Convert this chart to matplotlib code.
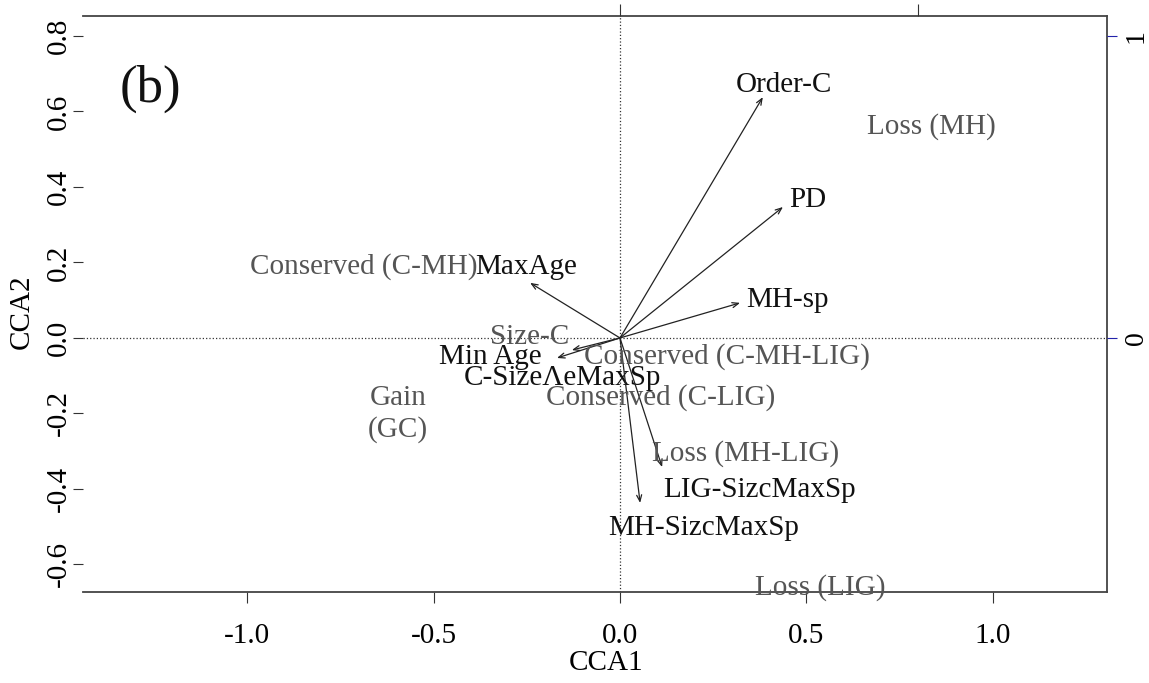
import matplotlib
matplotlib.use("Agg")
import matplotlib.pyplot as plt

plt.rcParams["font.family"] = ["Liberation Serif", "DejaVu Serif"]

# biplot arrows (environmental variables)
arrow_names = ["Order-C", "PD", "MH-sp", "MaxAge", "Min Age",
               "C-SizeΛeMaxSp", "LIG-SizcMaxSp", "MH-SizcMaxSp"]
arrow_x = [0.383, 0.437, 0.322, -0.241, -0.169, -0.129, 0.113, 0.054]
arrow_y = [0.638, 0.347, 0.093, 0.146, -0.053, -0.032, -0.342, -0.437]
arrow_lab_x = [0.440, 0.504, 0.448, -0.252, -0.349, -0.155, 0.375, 0.225]
arrow_lab_y = [0.670, 0.366, 0.101, 0.188, -0.050, -0.106, -0.403, -0.503]

# site scores (categories)
site_names = ["Conserved (C-MH)", "Loss (MH)", "Gain\n(GC)", "Conserved (C-MH-LIG)",
              "Conserved (C-LIG)", "Loss (MH-LIG)", "Loss (LIG)", "Size-C"]
site_x = [-0.686, 0.834, -0.595, 0.287, 0.110, 0.338, 0.536, -0.241]
site_y = [0.188, 0.559, -0.202, -0.050, -0.159, -0.305, -0.660, 0.003]

x_ticks = [-1.0, -0.5, 0.0, 0.5, 1.0]
y_ticks = [-0.6, -0.4, -0.2, 0.0, 0.2, 0.4, 0.6, 0.8]

fig = plt.figure(figsize=(11.49, 6.83), dpi=100)
ax = fig.add_axes([83 / 1149, 1 - 592 / 683, 1024 / 1149, 576 / 683])
ax.set_xlim(-1.44, 1.306)
ax.set_ylim(-0.673, 0.853)

spine_col = "#444444"
for side in ["top", "right", "bottom"]:
    ax.spines[side].set_color(spine_col)
    ax.spines[side].set_linewidth(1.3)
ax.spines["left"].set_visible(False)

ax.axhline(0, ls=":", color="#333333", lw=0.9)
ax.axvline(0, ls=":", color="#333333", lw=0.9)

for i in range(len(arrow_names)):
    ax.annotate("", xy=(arrow_x[i], arrow_y[i]), xytext=(0, 0),
                arrowprops=dict(arrowstyle="->,head_length=0.45,head_width=0.18",
                                lw=0.9, color="#222222", shrinkA=0, shrinkB=0))
    ax.text(arrow_lab_x[i], arrow_lab_y[i], arrow_names[i], fontsize=21,
            color="#111111", ha="center", va="center")

for i in range(len(site_names)):
    ax.text(site_x[i], site_y[i], site_names[i], fontsize=21, color="#555555",
            ha="center", va="center", linespacing=1.25)

ax.text(-1.26, 0.66, "(b)", fontsize=38, color="#111111", ha="center", va="center")

ax.set_xticks(x_ticks)
ax.set_xticklabels([f"{v:.1f}" for v in x_ticks], fontsize=21)
ax.set_yticks(y_ticks)
ax.set_yticklabels([f"{v:.1f}" for v in y_ticks], fontsize=21, rotation=90, va="center")
ax.tick_params(axis="x", length=8, pad=14, color="#333333")
ax.tick_params(axis="y", length=7, pad=1, color="#333333")

ax.set_xlabel("CCA1", fontsize=21, va="center")
ax.xaxis.set_label_coords(0.511, -0.123)
ax.set_ylabel("CCA2", fontsize=21, va="center")
ax.yaxis.set_label_coords(-0.0596, 0.486)

# secondary axes (right and top)
ax_r = ax.twinx()
ax_r.set_ylim(-0.841, 1.066)
ax_r.set_yticks([0, 1])
ax_r.set_yticklabels(["0", "1"], fontsize=20, rotation=90, va="center")
ax_r.tick_params(axis="y", length=7, pad=5, color="#2222aa")
for s in ax_r.spines.values():
    s.set_visible(False)

ax_t = ax.twiny()
ax_t.set_xlim(-1.802, 1.634)
ax_t.set_xticks([0, 1])
ax_t.set_xticklabels(["", ""])
ax_t.tick_params(axis="x", length=9, color="#333333")
ax_t.xaxis.get_major_ticks()[0].tick2line.set_color("#2222aa")
for s in ax_t.spines.values():
    s.set_visible(False)

fig.savefig("out.png", dpi=100)
